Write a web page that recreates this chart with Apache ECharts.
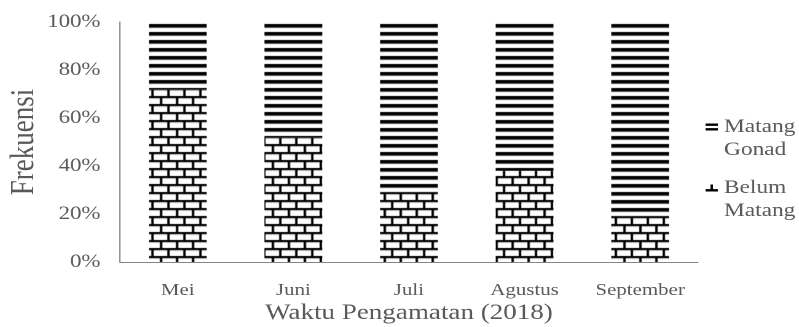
<!DOCTYPE html>
<html>
<head>
<meta charset="utf-8">
<script src="https://cdn.jsdelivr.net/npm/echarts@6/dist/echarts.min.js"></script>
<style>
  html, body { margin: 0; padding: 0; background: #fff; overflow: hidden; }
  #chart { width: 650px; height: 327px; transform: scaleX(1.2292); transform-origin: 0 0; }
</style>
</head>
<body>
<div id="chart"></div>
<script>
// Observation months and stacked share of each maturity stage (%)
const categories = ['Mei', 'Juni', 'Juli', 'Agustus', 'September'];
const belumMatang = [72, 52, 29, 38, 19];
const matangGonad = [28, 48, 71, 62, 81];
const yTicks = [0, 20, 40, 60, 80, 100];

const textGrey = '#595959';
const axisGrey = '#868686';
const serif = '"Liberation Serif", "Times New Roman", serif';

// Horizontal stripe fill for "Matang Gonad"
function stripeTile() {
  const c = document.createElement('canvas');
  c.width = 8; c.height = 8;
  const g = c.getContext('2d');
  g.fillStyle = '#fff'; g.fillRect(0, 0, 8, 8);
  g.fillStyle = '#000'; g.fillRect(0, 0, 8, 3);
  g.fillStyle = '#555'; g.fillRect(0, 3, 8, 1);
  return c;
}

// Brick fill for "Belum Matang"
function brickTile() {
  const w = 26, h = 16;
  const c = document.createElement('canvas');
  c.width = w; c.height = h;
  const g = c.getContext('2d');
  g.fillStyle = '#fff'; g.fillRect(0, 0, w, h);
  g.fillStyle = '#c4c4c4';
  g.fillRect(0, 2, w, 1); g.fillRect(0, 10, w, 1);
  g.fillStyle = '#000';
  g.fillRect(0, 0, w, 2);
  g.fillRect(0, 2, 2, 6); g.fillRect(13, 2, 2, 6);
  g.fillRect(0, 8, w, 2);
  g.fillRect(6, 10, 2, 6); g.fillRect(19, 10, 2, 6);
  return c;
}

const chart = echarts.init(document.getElementById('chart'), null, { renderer: 'canvas', devicePixelRatio: 2 });

const legendText = { color: textGrey, fontFamily: serif, fontSize: 19, lineHeight: 23 };

chart.setOption({
  animation: false,
  backgroundColor: '#fff',
  grid: { left: 97.6, right: 82.2, top: 22, bottom: 65, containLabel: false, outerBoundsMode: 'none' },
  legend: [
    {
      left: 574, top: 92.5, orient: 'vertical', padding: 0,
      itemWidth: 10, itemHeight: 7, selectedMode: false,
      textStyle: legendText,
      // leading blank line keeps the icon level with the first text line
      formatter: () => '\nMatang\nGonad',
      data: [{ name: 'Matang Gonad', icon: 'path://M0,0H10V2.4H0Z M0,4.6H10V7H0Z', itemStyle: { color: '#000' } }]
    },
    {
      left: 574, top: 153.5, orient: 'vertical', padding: 0,
      itemWidth: 10, itemHeight: 7, selectedMode: false,
      textStyle: legendText,
      formatter: () => '\nBelum\nMatang',
      data: [{ name: 'Belum Matang', icon: 'path://M0,4.6H10V7H0Z M4,0H6V4.6H4Z', itemStyle: { color: '#000' } }]
    }
  ],
  xAxis: {
    type: 'category',
    data: categories,
    name: 'Waktu Pengamatan (2018)',
    nameLocation: 'middle',
    nameGap: 40,
    nameMoveOverlap: false,
    nameTextStyle: { color: textGrey, fontFamily: serif, fontSize: 22 },
    axisLine: { lineStyle: { color: axisGrey, width: 1 } },
    axisTick: { show: false },
    axisLabel: { color: textGrey, fontFamily: serif, fontSize: 17, margin: 20, interval: 0, hideOverlap: false },
    splitLine: { show: false }
  },
  yAxis: {
    type: 'value',
    min: yTicks[0],
    max: yTicks[yTicks.length - 1],
    interval: yTicks[1] - yTicks[0],
    name: 'Frekuensi',
    nameLocation: 'middle',
    nameGap: 64,
    nameMoveOverlap: false,
    nameTextStyle: { color: textGrey, fontFamily: serif, fontSize: 27 },
    axisLine: { show: true, lineStyle: { color: axisGrey, width: 1 } },
    axisTick: { show: false },
    axisLabel: { color: textGrey, fontFamily: serif, fontSize: 18.5, margin: 16, formatter: '{value}%' },
    splitLine: { show: false }
  },
  series: [
    {
      name: 'Belum Matang',
      type: 'bar',
      stack: 'total',
      barWidth: '50%',
      data: belumMatang,
      itemStyle: { color: { image: brickTile(), repeat: 'repeat' } }
    },
    {
      name: 'Matang Gonad',
      type: 'bar',
      stack: 'total',
      barWidth: '50%',
      data: matangGonad,
      itemStyle: { color: { image: stripeTile(), repeat: 'repeat' } }
    }
  ]
});
</script>
</body>
</html>
